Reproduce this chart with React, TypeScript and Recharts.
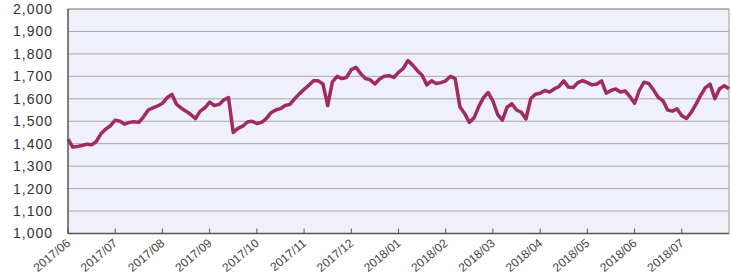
import React from 'react';
import { LineChart, Line, XAxis, YAxis, CartesianGrid, ReferenceLine } from 'recharts';

const monthLabels = [
  '2017/06', '2017/07', '2017/08', '2017/09', '2017/10', '2017/11', '2017/12',
  '2018/01', '2018/02', '2018/03', '2018/04', '2018/05', '2018/06', '2018/07',
];
const pointsPerMonth = 10;

const indexValues = [
  1420, 1385, 1388, 1392, 1398, 1395, 1410, 1445, 1465, 1480,
  1505, 1500, 1487, 1495, 1498, 1495, 1520, 1550, 1560, 1568,
  1580, 1605, 1620, 1575, 1558, 1545, 1530, 1512, 1545, 1560,
  1585, 1570, 1575, 1595, 1605, 1450, 1468, 1478, 1497, 1500,
  1490, 1495, 1512, 1538, 1550, 1556, 1570, 1575, 1600, 1622,
  1642, 1660, 1680, 1680, 1666, 1570, 1675, 1700, 1690, 1695,
  1730, 1740, 1712, 1690, 1685, 1666, 1688, 1700, 1703, 1695,
  1718, 1735, 1770, 1750, 1725, 1705, 1662, 1680, 1668, 1672,
  1680, 1700, 1690, 1565, 1535, 1495, 1515, 1565, 1605, 1628,
  1590, 1530, 1505, 1563, 1578, 1550, 1540, 1510, 1600, 1620,
  1625, 1637, 1630, 1644, 1655, 1680, 1652, 1650, 1672, 1681,
  1672, 1662, 1666, 1680, 1625, 1637, 1644, 1630, 1635, 1610,
  1580, 1637, 1674, 1668, 1640, 1607, 1592, 1550, 1545, 1555,
  1525, 1512, 1540, 1575, 1615, 1650, 1665, 1600, 1645, 1658,
  1645,
];

const yTicks = [1000, 1100, 1200, 1300, 1400, 1500, 1600, 1700, 1800, 1900, 2000];

const data = indexValues.map((v, i) => ({ t: i, v }));
const xTicks = monthLabels.map((_, i) => i * pointsPerMonth);
const xMax = monthLabels.length * pointsPerMonth;

const fmt = (n: number) => n.toLocaleString('en-US');

const XTick = (props: any) => {
  const { x, y, payload } = props;
  const label = monthLabels[Math.round(payload.value / pointsPerMonth)];
  return (
    <g>
      <line x1={x} y1={y - 5} x2={x} y2={y} stroke="#555" strokeWidth={1} />
      <text
        x={x + 3}
        y={y + 11}
        textAnchor="end"
        transform={`rotate(-40, ${x + 3}, ${y + 11})`}
        fontFamily="Liberation Sans, Arial, sans-serif"
        fontSize={12}
        fill="#444"
      >
        {label}
      </text>
    </g>
  );
};

export default function App() {
  return (
    <div style={{ position: 'absolute', left: 0, top: 0, width: 731, height: 279, background: '#fff' }}>
      <LineChart
        width={731}
        height={279}
        data={data}
        margin={{ top: 9, right: 2, bottom: 0.5, left: 0 }}
      >
        <CartesianGrid
          horizontal
          vertical={false}
          fill="#eff0fa"
          stroke="#a8a8a8"
          strokeWidth={1}
        />
        <XAxis
          dataKey="t"
          type="number"
          domain={[0, xMax]}
          ticks={xTicks}
          interval={0}
          height={45}
          tickSize={0}
          tickMargin={0}
          tickLine={false}
          axisLine={{ stroke: '#555', strokeWidth: 1.5 }}
          tick={<XTick />}
        />
        <YAxis
          type="number"
          domain={[1000, 2000]}
          ticks={yTicks}
          interval={0}
          width={68}
          tickSize={0}
          tickMargin={15}
          tickLine={false}
          axisLine={{ stroke: '#555', strokeWidth: 1.5 }}
          tickFormatter={fmt}
          tick={{ fontFamily: 'Liberation Sans, Arial, sans-serif', fontSize: 14, fill: '#333', letterSpacing: 1 }}
        />
        <ReferenceLine y={2000} stroke="#999" strokeWidth={1} />
        <ReferenceLine x={xMax} stroke="#999" strokeWidth={1} />
        <Line
          type="linear"
          dataKey="v"
          stroke="#9e2b63"
          strokeWidth={3.5}
          dot={false}
          isAnimationActive={false}
          strokeLinejoin="round"
        />
      </LineChart>
    </div>
  );
}
